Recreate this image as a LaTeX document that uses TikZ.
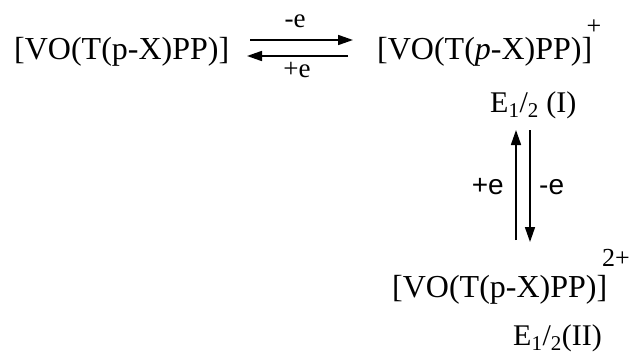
\documentclass[tikz,border=0pt]{standalone}
\usepackage{fontspec}
\setmainfont{Liberation Serif}
\newfontfamily\labelsans{Liberation Sans}
\usetikzlibrary{arrows.meta}
\tikzset{
  formula/.style={anchor=base west, inner sep=0pt, font=\fontsize{32}{36}\selectfont},
  potential/.style={anchor=base west, inner sep=0pt, font=\fontsize{30}{34}\selectfont},
  charge/.style={inner sep=0pt, font=\fontsize{26}{30}\selectfont},
  toplbl/.style={inner sep=0pt, font=\fontsize{27}{30}\selectfont},
  vlbl/.style={inner sep=0pt, font=\labelsans\fontsize{28}{30}\selectfont},
  rxn/.style={line width=1.7pt, -{Triangle[length=15pt,width=10pt]}}
}
\begin{document}
\begin{tikzpicture}[x=1pt,y=-1pt]
\useasboundingbox (0,0) rectangle (630,356);
% species
\node[formula] (L) at (14,59) {[VO(T(p-X)PP)]};
\node[formula] (R) at (377,59) {[VO(T(\textit{p}-X)PP)]};
\node[charge] (Rc) at (594,27) {+};
\node[potential] (E1) at (490,112) {E\textsubscript{1}/\textsubscript{2} (I)};
\node[formula] (B) at (392,297) {[VO(T(p-X)PP)]};
\node[charge, anchor=east] (Bc) at (630,258) {2+};
\node[potential] (E2) at (513,345) {E\textsubscript{1}/\textsubscript{2}(II)};
% horizontal equilibrium
\coordinate (a1) at (250,40);
\coordinate (a2) at (353,40);
\coordinate (b1) at (348,56);
\coordinate (b2) at (247,56);
\draw[rxn] (a1) -- (a2);
\draw[rxn] (b1) -- (b2);
\node[toplbl] (me) at (295,21) {-e};
\node[toplbl] (pe) at (297,70) {+e};
% vertical equilibrium
\coordinate (u1) at (516,240);
\coordinate (u2) at (516,130);
\coordinate (d1) at (530,130);
\coordinate (d2) at (530,242);
\draw[rxn] (u1) -- (u2);
\draw[rxn] (d1) -- (d2);
\node[vlbl, anchor=east] (vp) at (504,187) {+e};
\node[vlbl, anchor=west] (vm) at (539,187) {-e};
\end{tikzpicture}
\end{document}
